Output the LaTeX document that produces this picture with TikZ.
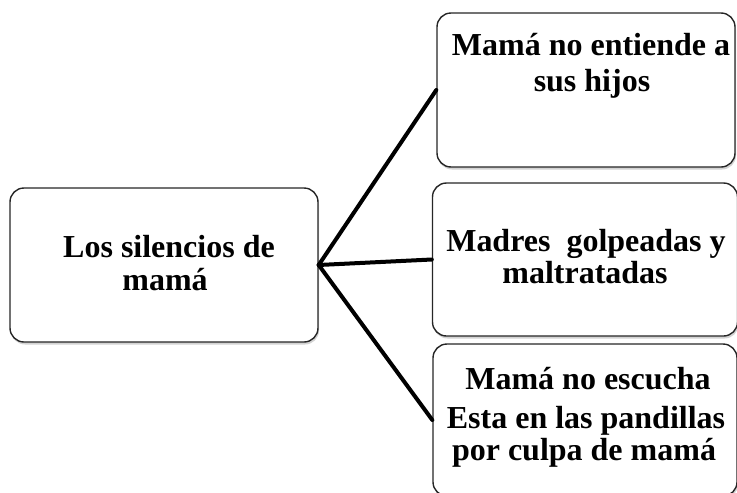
\documentclass[tikz,border=0pt]{standalone}
\usepackage{fontspec}
\setmainfont{Liberation Serif}
\usepackage{tikz}
\usetikzlibrary{shadows}

\begin{document}
\begin{tikzpicture}[x=1pt, y=-1pt,
  box/.style={draw=black!85, line width=1.4pt, rounded corners=14pt, fill=white,
    drop shadow={shadow xshift=1pt, shadow yshift=-2.5pt, opacity=0.35}},
  txt/.style={anchor=base, inner sep=0pt, font=\fontsize{32}{33}\selectfont\bfseries}]
  \useasboundingbox (0,0) rectangle (737,493);
  \clip (0,0) rectangle (737,493);
  \node[box, minimum width=308pt, minimum height=154pt] (sil) at (164,265) {};
  \node[box, minimum width=298pt, minimum height=154pt] (ent) at (586,90) {};
  \node[box, minimum width=305pt, minimum height=153pt] (gol) at (585,259.5) {};
  \node[box, minimum width=304pt, minimum height=152pt] (esc) at (585,420) {};
  \node[txt] (sil-a) at (169,257) {Los silencios de};
  \node[txt] (sil-b) at (165,290) {mamá};
  \node[txt] (ent-a) at (591,55) {Mamá no entiende a};
  \node[txt] (ent-b) at (592,91) {sus hijos};
  \node[txt] (gol-a) at (586,251) {Madres\ \ golpeadas y};
  \node[txt] (gol-b) at (585,283) {maltratadas};
  \node[txt] (esc-a) at (588,389) {Mamá no escucha};
  \node[txt] (esc-b) at (586,428) {Esta en las pandillas};
  \node[txt] (esc-c) at (584,460) {por culpa de mamá};
  \path[line width=4pt, line cap=round]
  (sil.east) edge (ent.west)
             edge (gol.west)
             edge (esc.west)
  ;
\end{tikzpicture}
\end{document}
